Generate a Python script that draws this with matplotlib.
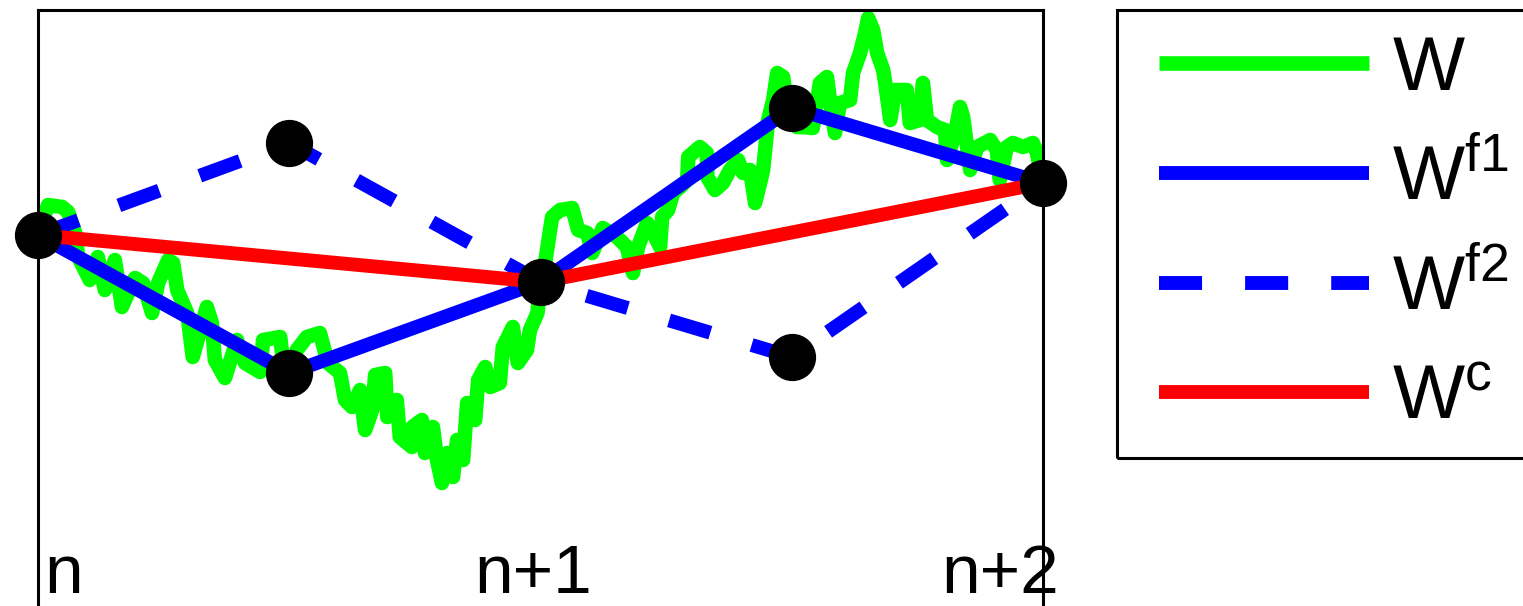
import matplotlib
matplotlib.use("Agg")
import numpy as np
import matplotlib.pyplot as plt
from matplotlib.patches import Rectangle

plt.rcParams['font.family'] = 'Liberation Sans'
plt.rcParams['mathtext.fontset'] = 'custom'
plt.rcParams['mathtext.rm'] = 'Liberation Sans'
plt.rcParams['mathtext.it'] = 'Liberation Sans'

# brownian path W
t_w = [0.000, 0.020, 0.048, 0.060, 0.074, 0.080, 0.103, 0.119, 0.133, 0.153,
       0.167, 0.193, 0.209, 0.227, 0.239, 0.259, 0.269, 0.277, 0.297, 0.308,
       0.336, 0.346, 0.352, 0.372, 0.396, 0.412, 0.442, 0.448, 0.482, 0.488,
       0.500, 0.515, 0.535, 0.561, 0.577, 0.601, 0.611, 0.625, 0.641, 0.651,
       0.665, 0.671, 0.691, 0.695, 0.714, 0.720, 0.744, 0.745, 0.764, 0.770,
       0.786, 0.794, 0.804, 0.814, 0.826, 0.834, 0.846, 0.854, 0.870, 0.876,
       0.890, 0.900, 0.919, 0.925, 0.945, 0.955, 0.973, 0.979, 0.994, 1.000,
       1.010, 1.023, 1.039, 1.063, 1.075, 1.093, 1.103, 1.124, 1.152, 1.172,
       1.184, 1.194, 1.212, 1.224, 1.238, 1.242, 1.254, 1.264, 1.278, 1.292,
       1.294, 1.317, 1.331, 1.332, 1.347, 1.363, 1.377, 1.393, 1.403, 1.417,
       1.427, 1.437, 1.443, 1.453, 1.463, 1.471, 1.483, 1.491, 1.500, 1.510,
       1.522, 1.542, 1.556, 1.570, 1.576, 1.586, 1.596, 1.616, 1.622, 1.636,
       1.646, 1.652, 1.662, 1.670, 1.682, 1.686, 1.696, 1.706, 1.729, 1.735,
       1.755, 1.761, 1.769, 1.789, 1.805, 1.809, 1.825, 1.835, 1.841, 1.849,
       1.855, 1.869, 1.895, 1.908, 1.914, 1.928, 1.940, 1.960, 1.980, 1.988,
       2.000]
w_vals = [0.00, 0.30, 0.28, 0.23, 0.02, -0.22, -0.45, -0.22, -0.55, -0.25,
          -0.72, -0.43, -0.48, -0.78, -0.48, -0.25, -0.28, -0.55, -0.78, -1.22,
          -0.72, -0.88, -1.25, -1.43, -1.05, -1.28, -1.37, -1.05, -1.02, -1.28,
          -1.38, -1.15, -1.02, -0.98, -1.28, -1.38, -1.65, -1.72, -1.55, -1.95,
          -1.75, -1.40, -1.38, -1.82, -1.65, -2.02, -2.12, -1.92, -1.85, -2.18,
          -1.92, -2.25, -2.48, -2.18, -2.42, -2.05, -2.25, -1.68, -1.85, -1.45,
          -1.32, -1.52, -1.48, -1.12, -0.92, -1.28, -1.15, -0.95, -0.78, -0.47,
          -0.25, 0.18, 0.25, 0.27, 0.05, 0.02, -0.18, 0.07, -0.02, -0.12,
          -0.38, -0.12, 0.12, 0.02, -0.12, 0.18, 0.25, 0.42, 0.48, 0.55,
          0.78, 0.88, 0.82, 0.58, 0.45, 0.52, 0.65, 0.75, 0.62, 0.65,
          0.32, 0.52, 0.65, 1.15, 1.35, 1.62, 1.58, 1.25, 1.27, 1.08,
          1.08, 1.07, 1.52, 1.58, 1.35, 1.02, 1.32, 1.35, 1.62, 1.82,
          2.02, 2.17, 2.05, 1.82, 1.65, 1.52, 1.15, 1.45, 1.45, 1.12,
          1.15, 1.52, 1.15, 1.08, 1.05, 0.75, 1.02, 1.28, 1.18, 0.88,
          0.65, 0.88, 0.95, 0.85, 0.55, 0.88, 0.92, 0.88, 0.92, 0.82,
          0.52]

t_fine = [0, 0.5, 1, 1.5, 2]
w_f1 = [0.00, -1.38, -0.47, 1.27, 0.52]
w_f2 = [0.00, 0.92, -0.47, -1.22, 0.52]
t_coarse = [0, 1, 2]
w_c = [0.00, -0.47, 0.52]

tick_text = ['n', 'n+1', 'n+2']

W, H = 1523, 606
fig = plt.figure(figsize=(W / 100, H / 100), dpi=100)
ax = fig.add_axes([38 / W, -0.0561, 1005 / W, 1.0396])

lw = 10
ax.plot(t_w, w_vals, color=(0, 1, 0), lw=10.5, solid_joinstyle='round',
        solid_capstyle='butt', label=r'$\mathrm{W}$')
ax.plot(t_fine, w_f1, color=(0, 0, 1), lw=lw, solid_capstyle='butt',
        label=r'$\mathrm{W}^{\mathrm{f1}}$')
ax.plot(t_fine, w_f2, color=(0, 0, 1), lw=lw, linestyle=(0, (3.1, 3.1)),
        dash_capstyle='butt', label=r'$\mathrm{W}^{\mathrm{f2}}$')
ax.plot(t_coarse, w_c, color=(1, 0, 0), lw=lw, solid_capstyle='butt',
        label=r'$\mathrm{W}^{\mathrm{c}}$')
ax.plot(t_fine, w_f1, 'o', color='k', ms=33, clip_on=False, zorder=5)
ax.plot(t_fine[1::2], w_f2[1::2], 'o', color='k', ms=33, clip_on=False, zorder=5)

ax.set_xlim(0, 2)
ax.set_ylim(-4.05, 2.25)
ax.set_xticks([])
ax.set_yticks([])
for s in ax.spines.values():
    s.set_linewidth(2.2)

ax.text(0.012, -3.585, tick_text[0], fontsize=50, ha='left', va='baseline')
ax.text(0.985, -3.585, tick_text[1], fontsize=50, ha='center', va='baseline')
ax.text(1.797, -3.585, tick_text[2], fontsize=50, ha='left', va='baseline')

leg = ax.legend(loc='upper left', bbox_to_anchor=(1159 / W, 1 - 35 / H),
                bbox_transform=fig.transFigure, fontsize=55, handlelength=2.75,
                handletextpad=0.3, borderpad=0, labelspacing=0.5,
                borderaxespad=0, frameon=False)

# legend box, drawn by hand so its padding can differ left/top
fig.add_artist(Rectangle((1117 / W, 1 - 458 / H), 430 / W, 448 / H,
                         transform=fig.transFigure, fill=False,
                         edgecolor='black', lw=2.2, clip_on=False))

fig.savefig('out.png', dpi=100)
